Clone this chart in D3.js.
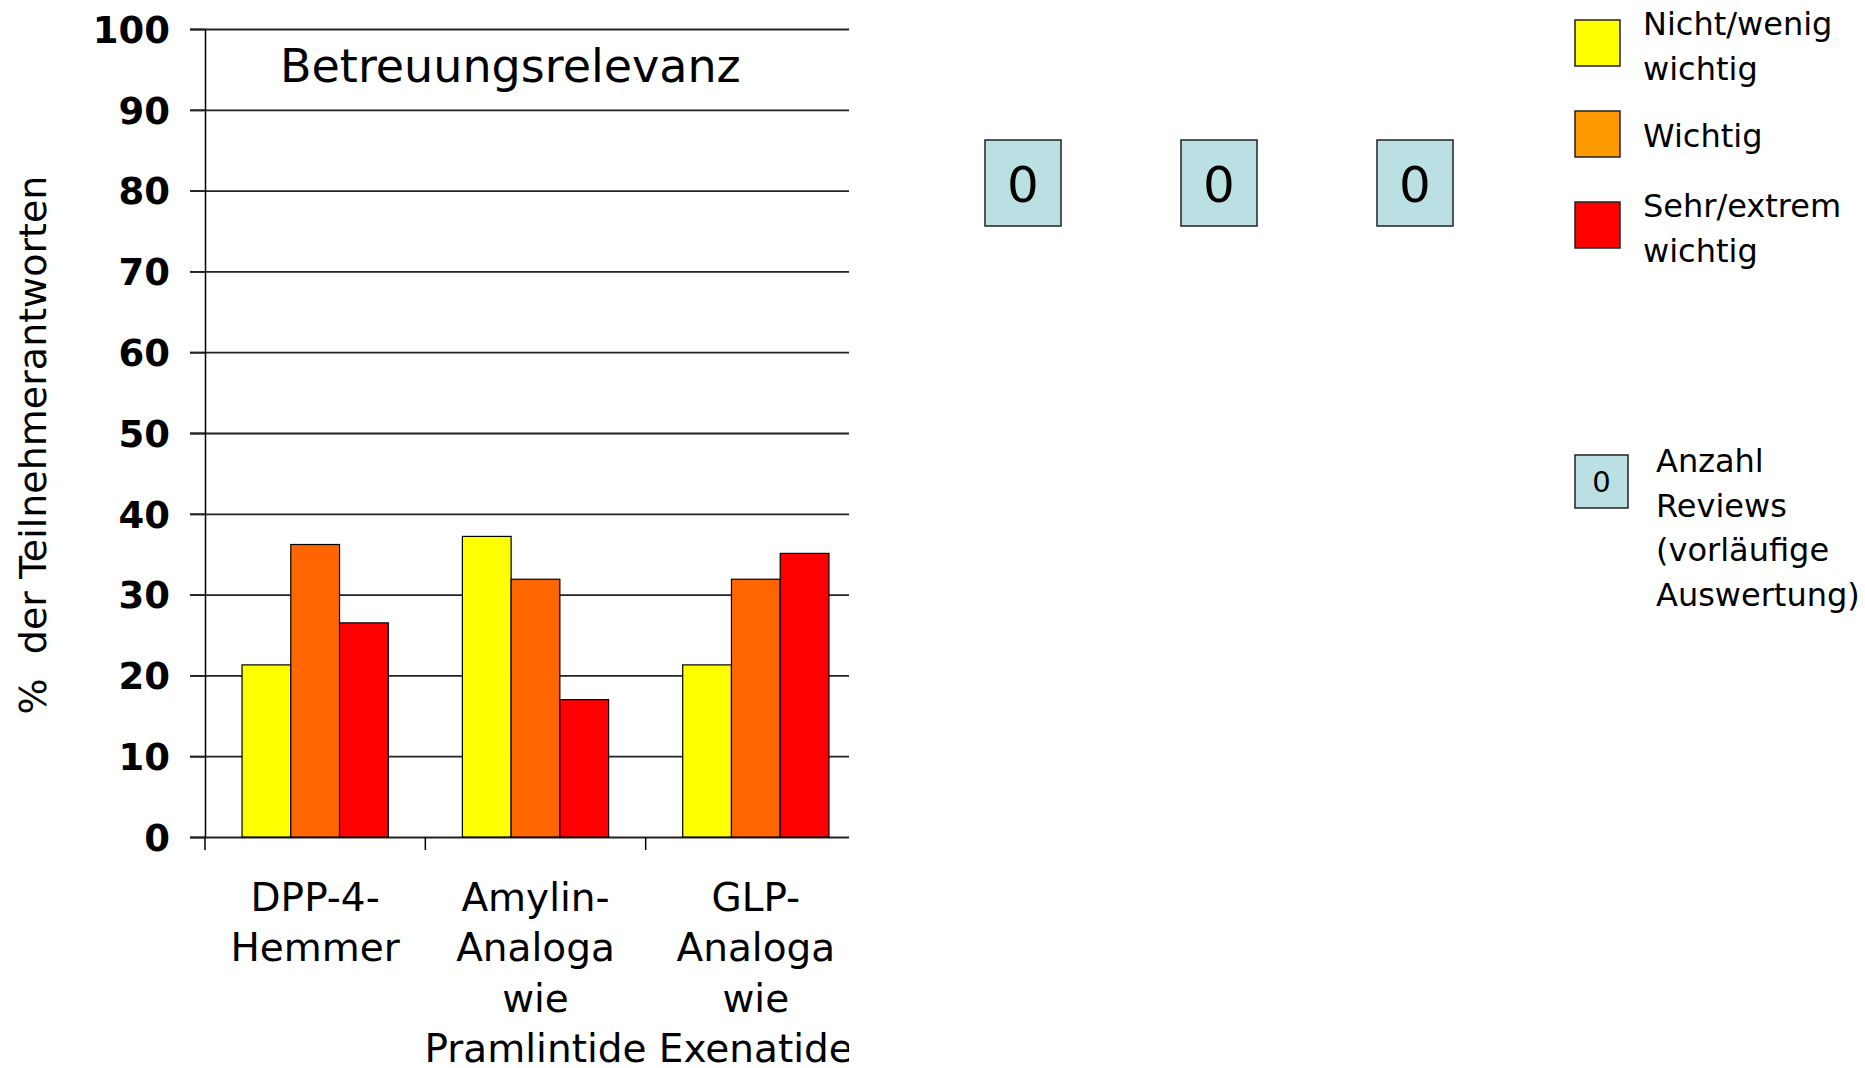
<!DOCTYPE html>
<html lang="de">
<head>
    <meta charset="UTF-8">
    <title>Betreuungsrelevanz</title>
    <script src="https://d3js.org/d3.v7.min.js"></script>
    <style>
        body { margin: 0; background: #fff; }
        text { font-family: "DejaVu Sans", Verdana, sans-serif; fill: #000; }
    </style>
</head>
<body>
    <div id="my_dataviz"></div>

    <script>
        // data
        const categories = ["DPP-4-Hemmer", "Amylin-Analoga wie Pramlintide", "GLP-Analoga wie Exenatide"];
        const categoryLines = [["DPP-4-", "Hemmer"], ["Amylin-", "Analoga", "wie", "Pramlintide"], ["GLP-", "Analoga", "wie", "Exenatide"]];
        const series = ["Nicht/wenig wichtig", "Wichtig", "Sehr/extrem wichtig"];
        const seriesLines = [["Nicht/wenig", "wichtig"], ["Wichtig"], ["Sehr/extrem", "wichtig"]];
        const nichtWenig = [21.3, 37.2, 21.3];
        const wichtig = [36.2, 31.9, 31.9];
        const sehrExtrem = [26.5, 17.0, 35.1];
        const reviewCounts = [0, 0, 0];
        const yTicks = [0, 10, 20, 30, 40, 50, 60, 70, 80, 90, 100];

        const barColors = ["#FFFF00", "#FF6600", "#FF0000"];
        const legendColors = ["#FFFF00", "#FF9900", "#FF0000"];
        const reviewFill = "#BBE0E3";

        const values = [nichtWenig, wichtig, sehrExtrem];
        const table = categories.map((c, i) => ({cat: c, vals: series.map((s, j) => ({s: s, v: values[j][i]}))}));

        const W = 1865, H = 1068;
        const svg = d3.select("#my_dataviz")
            .append("svg")
            .attr("width", W)
            .attr("height", H);

        // plot area
        const plotLeft = 205, plotRight = 866, plotTop = 29, plotBottom = 837, clipRight = 849;

        const x0 = d3.scaleBand().domain(categories).range([plotLeft, plotRight]).padding(0);
        const x1 = d3.scaleBand().domain(series).range([0, x0.bandwidth()]).paddingInner(0).paddingOuter(0.76);
        const y = d3.scaleLinear().domain([0, 100]).range([plotBottom, plotTop]);

        svg.append("clipPath").attr("id", "plotclip")
            .append("rect").attr("x", 0).attr("y", 0).attr("width", clipRight).attr("height", H);

        const chart = svg.append("g").attr("clip-path", "url(#plotclip)");

        // gridlines
        chart.append("g")
            .attr("transform", `translate(${plotLeft - 15},0)`)
            .call(d3.axisLeft(y).tickValues(yTicks).tickSize(-(clipRight - plotLeft + 15)).tickFormat(""))
            .call(g => g.select(".domain").remove())
            .selectAll("line").attr("stroke", "#222").attr("stroke-width", 1.8);

        // bars
        chart.selectAll("g.grp")
            .data(table)
            .join("g")
            .attr("class", "grp")
            .attr("transform", d => `translate(${x0(d.cat)},0)`)
            .selectAll("rect")
            .data(d => d.vals)
            .join("rect")
            .attr("x", d => x1(d.s))
            .attr("y", d => y(d.v))
            .attr("width", x1.bandwidth())
            .attr("height", d => y(0) - y(d.v))
            .attr("fill", (d, i) => barColors[i])
            .attr("stroke", "#000")
            .attr("stroke-width", 1.2);

        // y axis
        const yAxis = svg.append("g")
            .attr("transform", `translate(${plotLeft},0)`)
            .call(d3.axisLeft(y).tickValues(yTicks).tickSize(15).tickPadding(20).tickSizeOuter(0));
        yAxis.select(".domain").attr("stroke", "#000").attr("stroke-width", 1.5);
        yAxis.selectAll("line").attr("stroke", "#222").attr("stroke-width", 1.8);
        yAxis.selectAll("text")
            .style("font-family", "'DejaVu Sans', Verdana, sans-serif")
            .style("font-weight", "bold")
            .style("font-size", "37px")
            .attr("dy", "0.36em");

        // category boundary ticks
        svg.selectAll("line.xtick")
            .data(categories)
            .join("line")
            .attr("class", "xtick")
            .attr("x1", d => x0(d))
            .attr("x2", d => x0(d))
            .attr("y1", y(0))
            .attr("y2", y(0) + 13)
            .attr("stroke", "#000")
            .attr("stroke-width", 1.5);

        // category labels
        const lab = chart.selectAll("text.cat")
            .data(categories)
            .join("text")
            .attr("class", "cat")
            .attr("text-anchor", "middle")
            .style("font-size", "39px");
        lab.selectAll("tspan")
            .data((d, i) => categoryLines[i].map(t => ({t: t, c: d})))
            .join("tspan")
            .attr("x", d => x0(d.c) + x0.bandwidth() / 2)
            .attr("y", (d, i) => 911 + i * 50.3)
            .text(d => d.t);

        // chart title inside plot
        svg.append("text")
            .attr("x", 280)
            .attr("y", 82)
            .style("font-size", "46px")
            .text("Betreuungsrelevanz");

        // y axis title
        svg.append("text")
            .attr("transform", "translate(46,445) rotate(-90)")
            .attr("text-anchor", "middle")
            .style("font-size", "38px")
            .style("white-space", "pre")
            .text("%  der Teilnehmerantworten");

        // review count boxes
        const xr = d3.scalePoint().domain(categories).range([1023, 1415]);
        const rv = svg.selectAll("g.review")
            .data(categories.map((c, i) => ({c: c, n: reviewCounts[i]})))
            .join("g")
            .attr("class", "review")
            .attr("transform", d => `translate(${xr(d.c)},183)`);
        rv.append("rect")
            .attr("x", -38).attr("y", -43)
            .attr("width", 76).attr("height", 86)
            .attr("fill", reviewFill)
            .attr("stroke", "#222")
            .attr("stroke-width", 1.5);
        rv.append("text")
            .attr("text-anchor", "middle")
            .attr("y", 19)
            .style("font-size", "50px")
            .text(d => d.n);

        // legend
        const legY = [20, 111, 202];
        const leg = svg.selectAll("g.leg")
            .data(series)
            .join("g")
            .attr("class", "leg")
            .attr("transform", (d, i) => `translate(1575,${legY[i]})`);
        leg.append("rect")
            .attr("width", 45).attr("height", 46)
            .attr("fill", (d, i) => legendColors[i])
            .attr("stroke", "#222")
            .attr("stroke-width", 1.5);
        leg.append("text")
            .style("font-size", "32px")
            .selectAll("tspan")
            .data((d, i) => seriesLines[i].map((t, k) => ({t: t, k: k, n: seriesLines[i].length})))
            .join("tspan")
            .attr("x", 68)
            .attr("y", d => d.n === 1 ? 36 : 15 + d.k * 44.5)
            .text(d => d.t);

        // review legend
        const rl = svg.append("g").attr("transform", "translate(1575,455)");
        rl.append("rect")
            .attr("width", 53).attr("height", 53)
            .attr("fill", reviewFill)
            .attr("stroke", "#222")
            .attr("stroke-width", 1.5);
        rl.append("text")
            .attr("x", 26.5).attr("y", 37)
            .attr("text-anchor", "middle")
            .style("font-size", "29px")
            .text(reviewCounts[0]);
        rl.append("text")
            .style("font-size", "32px")
            .selectAll("tspan")
            .data(["Anzahl", "Reviews", "(vorläufige", "Auswertung)"])
            .join("tspan")
            .attr("x", 81)
            .attr("y", (d, i) => 17 + i * 44.6)
            .text(d => d);
    </script>
</body>
</html>
